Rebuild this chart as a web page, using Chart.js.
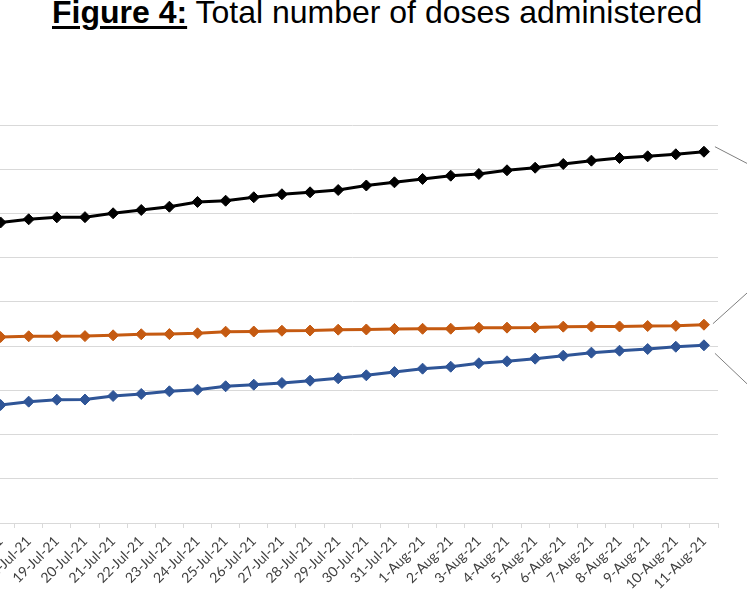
<!DOCTYPE html>
<html>
<head>
<meta charset="utf-8">
<script src="https://cdn.jsdelivr.net/npm/chart.js@4.4.1/dist/chart.umd.min.js"></script>
<style>
  html, body { margin: 0; padding: 0; background: #fff; overflow: hidden; }
  body { width: 747px; height: 598px; position: relative; }
  #title {
    position: absolute; left: 52px; top: -6px;
    font-family: "Liberation Sans", Arial, sans-serif;
    font-size: 32px; color: #000; white-space: nowrap;
  }
  #title b { text-decoration: underline; text-underline-offset: 3px; }
  #wrap { position: absolute; left: -20px; top: 0; width: 800px; height: 598px; }
</style>
</head>
<body>
<div id="title"><b>Figure 4:</b> Total number of doses administered</div>
<div id="wrap"><canvas id="doses-chart"></canvas></div>
<script>
// dates shown along the bottom (17-Jul sits just off the left edge)
var dates = [
    "17-Jul-21", "18-Jul-21", "19-Jul-21", "20-Jul-21", "21-Jul-21", "22-Jul-21",
    "23-Jul-21", "24-Jul-21", "25-Jul-21", "26-Jul-21", "27-Jul-21", "28-Jul-21",
    "29-Jul-21", "30-Jul-21", "31-Jul-21", "1-Aug-21", "2-Aug-21", "3-Aug-21",
    "4-Aug-21", "5-Aug-21", "6-Aug-21", "7-Aug-21", "8-Aug-21", "9-Aug-21",
    "10-Aug-21", "11-Aug-21",
];

// cumulative doses
var totalDoses = [
    3398000, 3434000, 3456000, 3458000, 3502000, 3539000, 3576000, 3630000,
    3644000, 3683000, 3717000, 3739000, 3765000, 3816000, 3852000, 3890000,
    3927000, 3946000, 3988000, 4017000, 4059000, 4097000, 4127000, 4146000,
    4169000, 4198000,
];
var firstDoses = [
    2103000, 2111000, 2112000, 2113000, 2122000, 2134000, 2136000, 2145000,
    2163000, 2165000, 2174000, 2176000, 2186000, 2188000, 2194000, 2196000,
    2197000, 2208000, 2209000, 2210000, 2220000, 2221000, 2222000, 2227000,
    2229000, 2242000,
];
var secondDoses = [
    1334000, 1372000, 1394000, 1396000, 1436000, 1459000, 1489000, 1507000,
    1546000, 1564000, 1583000, 1609000, 1636000, 1670000, 1707000, 1745000,
    1767000, 1806000, 1828000, 1858000, 1892000, 1926000, 1948000, 1967000,
    1993000, 2009000,
];

// leader lines running out to the data labels beyond the right edge
var leaderLines = {
    id: "leaderLines",
    afterDatasetsDraw: function (chart) {
        var ctx = chart.ctx;
        var slopes = [[11, -5, 0.52], [9, -1, -0.9], [11, 8, 0.95]];
        ctx.save();
        ctx.strokeStyle = "#7f7f7f";
        ctx.lineWidth = 1;
        chart.data.datasets.forEach(function (ds, i) {
            var pts = chart.getDatasetMeta(i).data;
            var last = pts[pts.length - 1];
            var s = slopes[i];
            var x0 = last.x + s[0], y0 = last.y + s[1];
            ctx.beginPath();
            ctx.moveTo(x0, y0);
            ctx.lineTo(x0 + 60, y0 + 60 * s[2]);
            ctx.stroke();
        });
        ctx.restore();
    },
};

function series(label, data, color) {
    return {
        label: label,
        data: data,
        borderColor: color,
        backgroundColor: color,
        borderWidth: 3,
        pointStyle: "rectRot",
        pointRadius: 5.5,
        pointBorderWidth: 1,
        pointBackgroundColor: color,
        pointBorderColor: color,
        tension: 0,
    };
}

var dosesChart = new Chart(document.getElementById("doses-chart").getContext("2d"), {
    type: "line",
    data: {
        labels: dates,
        datasets: [
            series("Total doses", totalDoses, "#000000"),
            series("First dose", firstDoses, "#c55a11"),
            series("Second dose", secondDoses, "#2f5597"),
        ],
    },
    options: {
        responsive: true,
        maintainAspectRatio: false,
        animation: false,
        layout: { padding: { left: 2, right: 62, top: 125, bottom: 0 } },
        plugins: {
            legend: { display: false },
            tooltip: { enabled: false },
        },
        scales: {
            x: {
                offset: true,
                grid: {
                    offset: true,
                    drawOnChartArea: false,
                    drawTicks: true,
                    tickLength: 5,
                    color: "#d9d9d9",
                },
                border: { color: "#d9d9d9" },
                ticks: {
                    autoSkip: false,
                    minRotation: 45,
                    maxRotation: 45,
                    padding: 5,
                    color: "#404040",
                    font: { family: "Lato", size: 14 },
                },
                afterFit: function (scale) {
                    scale.paddingLeft = 0;
                    scale.paddingRight = 0;
                    scale.height = 75;
                },
            },
            y: {
                min: 0,
                max: 4500000,
                ticks: { display: false, stepSize: 500000 },
                grid: { color: "#d9d9d9", drawTicks: false },
                border: { display: false },
                afterFit: function (scale) {
                    scale.width = 0;
                },
            },
        },
    },
    plugins: [leaderLines],
});
</script>
</body>
</html>
